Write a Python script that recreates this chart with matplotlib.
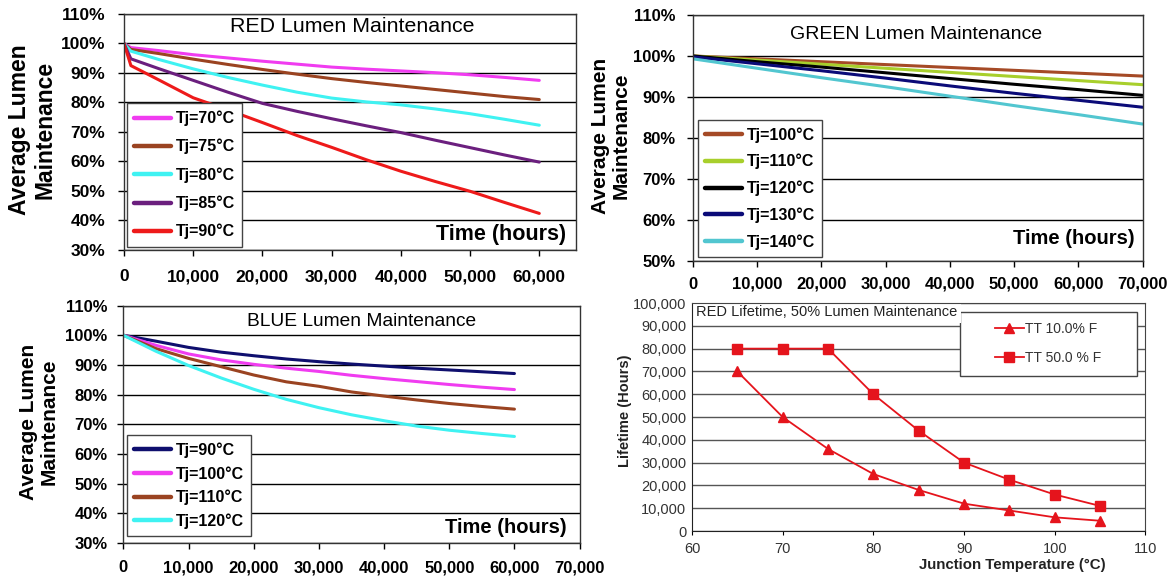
import numpy as np
import matplotlib
matplotlib.use('Agg')
import matplotlib.pyplot as plt
from matplotlib.ticker import FuncFormatter
from matplotlib.patches import Rectangle

plt.rcParams['font.family'] = ['Liberation Sans', 'DejaVu Sans']

# RED lumen maintenance (% vs hours)
red_hours = [0, 1000, 5000, 10000, 15000, 20000, 25000, 30000, 35000, 40000, 45000, 50000, 55000, 60000]
red_tj70 = [100, 98.6, 97.6, 96.2, 95.1, 94.0, 93.0, 92.0, 91.3, 90.7, 90.1, 89.4, 88.5, 87.5]
red_tj75 = [100, 98.0, 96.6, 94.7, 92.9, 91.2, 89.6, 88.1, 86.8, 85.6, 84.4, 83.2, 82.0, 81.0]
red_tj80 = [100, 97.4, 94.6, 91.4, 88.5, 85.9, 83.5, 81.5, 80.2, 79.2, 77.8, 76.2, 74.3, 72.3]
red_tj85 = [100, 94.8, 91.5, 87.5, 83.5, 79.7, 77.0, 74.5, 72.1, 69.8, 67.2, 64.7, 62.2, 59.8]
red_tj90 = [100, 92.5, 87.7, 81.6, 77.5, 73.2, 68.8, 64.8, 60.6, 56.7, 53.2, 49.9, 46.1, 42.4]
red_labels = ['Tj=70°C', 'Tj=75°C', 'Tj=80°C', 'Tj=85°C', 'Tj=90°C']

# GREEN lumen maintenance
green_hours = [0, 10000, 20000, 30000, 40000, 50000, 60000, 70000]
green_tj100 = [100, 99.3, 98.6, 97.9, 97.2, 96.5, 95.8, 95.1]
green_tj110 = [100, 99.0, 98.0, 97.0, 96.0, 95.0, 94.0, 93.0]
green_tj120 = [100, 98.6, 97.3, 95.9, 94.5, 93.1, 91.8, 90.4]
green_tj130 = [99.8, 98.1, 96.4, 94.6, 92.7, 90.9, 89.2, 87.5]
green_tj140 = [99.3, 97.0, 94.7, 92.5, 90.2, 87.9, 85.7, 83.4]
green_labels = ['Tj=100°C', 'Tj=110°C', 'Tj=120°C', 'Tj=130°C', 'Tj=140°C']

# BLUE lumen maintenance
blue_hours = [0, 5000, 10000, 15000, 20000, 25000, 30000, 35000, 40000, 45000, 50000, 55000, 60000]
blue_tj90 = [100, 98.0, 95.9, 94.3, 93.1, 92.0, 91.1, 90.3, 89.6, 88.9, 88.3, 87.7, 87.1]
blue_tj100 = [100, 96.6, 93.7, 91.7, 90.2, 88.9, 87.8, 86.5, 85.4, 84.4, 83.4, 82.5, 81.7]
blue_tj110 = [100, 95.5, 92.2, 89.4, 86.6, 84.3, 82.8, 80.9, 79.5, 78.2, 77.0, 76.0, 75.1]
blue_tj120 = [100, 94.6, 89.8, 85.6, 81.8, 78.4, 75.6, 73.2, 71.2, 69.4, 68.0, 66.9, 65.9]
blue_labels = ['Tj=90°C', 'Tj=100°C', 'Tj=110°C', 'Tj=120°C']

# RED lifetime at 50% lumen maintenance
junction_temp = [65, 70, 75, 80, 85, 90, 95, 100, 105]
life_tt10 = [70000, 50000, 36000, 25000, 18000, 12000, 9000, 6000, 4500]
life_tt50 = [80000, 80000, 80000, 60000, 44000, 30000, 22500, 16000, 11000]
life_labels = ['TT 10.0% F', 'TT 50.0 % F']

red_colors = ['#f03cf0', '#9a4321', '#3ff2f2', '#6b1f7e', '#ee1a1a']
green_colors = ['#a54a26', '#a8cf2c', '#000000', '#0b0b78', '#52c6d0']
blue_colors = ['#0f0f6e', '#f03cf0', '#9a4321', '#3ff2f2']
life_color = '#e5141c'

fig = plt.figure(figsize=(11.74, 5.76), dpi=100)
ax1 = fig.add_axes([0.1056, 0.566, 0.385, 0.4097])
ax2 = fig.add_axes([0.5903, 0.5469, 0.3829, 0.4271])
ax3 = fig.add_axes([0.1051, 0.0573, 0.3886, 0.4122])
ax4 = fig.add_axes([0.5894, 0.0781, 0.3863, 0.3958])


def style_lumen(ax, ylo, xmax, xtop, tsize, ypad, xpad):
    ax.set_xlim(0, xmax)
    ax.set_ylim(ylo, 110)
    ax.set_yticks(np.arange(ylo, 111, 10))
    ax.set_xticks(np.arange(0, xtop + 1, 10000))
    ax.yaxis.set_major_formatter(FuncFormatter(lambda v, p: f'{v:.0f}%'))
    ax.xaxis.set_major_formatter(FuncFormatter(lambda v, p: f'{v:,.0f}'))
    ax.grid(axis='y', color='black', lw=1.0)
    ax.set_axisbelow(True)
    ax.tick_params(axis='y', direction='out', length=4.5, width=1, pad=ypad, labelsize=tsize)
    ax.tick_params(axis='x', direction='out', length=4, width=1, pad=xpad, labelsize=tsize)
    for lab in ax.get_xticklabels() + ax.get_yticklabels():
        lab.set_fontweight('bold')
    for s in ax.spines.values():
        s.set_color('#333333')
        s.set_linewidth(1)


def lumen_panel(ax, hours, series, labels, colors, title, tsize, tpos, legpos, lspace,
                ylab_size, ylab_x, ylab_ls, time_pos, time_size):
    for vals, lab, col in zip(series, labels, colors):
        ax.plot(hours, vals, color=col, lw=2.2, label=lab, solid_capstyle='round')
    ax.text(tpos[0], tpos[1], title, transform=ax.transAxes, ha='center', va='center',
            fontsize=tsize)
    leg = ax.legend(loc='lower left', bbox_to_anchor=legpos, borderaxespad=0,
                    prop={'weight': 'bold', 'size': 11.5}, handlelength=2.3,
                    handletextpad=0.3, labelspacing=lspace, borderpad=0.45,
                    fancybox=False, edgecolor='#444444', framealpha=1)
    leg.get_frame().set_linewidth(1)
    for ln in leg.get_lines():
        ln.set_linewidth(3.2)
    ax.text(ylab_x, 0.51, 'Average Lumen\nMaintenance', transform=ax.transAxes,
            rotation=90, ha='center', va='center', fontsize=ylab_size,
            fontweight='bold', linespacing=ylab_ls, multialignment='center')
    ax.text(time_pos[0], time_pos[1], 'Time (hours)', transform=ax.transAxes,
            ha='right', va='center', fontsize=time_size, fontweight='bold')


style_lumen(ax1, 30, 65300, 60000, 12.5, 9, 10)
lumen_panel(ax1, red_hours, [red_tj70, red_tj75, red_tj80, red_tj85, red_tj90],
            red_labels, red_colors, 'RED Lumen Maintenance', 15.4, (0.504, 0.945),
            (0.006, 0.014), 0.8, 16.5, -0.203, 1.15, (0.978, 0.064), 15.5)

style_lumen(ax2, 50, 70000, 70000, 12, 8, 7.5)
lumen_panel(ax2, green_hours, [green_tj100, green_tj110, green_tj120, green_tj130, green_tj140],
            green_labels, green_colors, 'GREEN Lumen Maintenance', 14, (0.497, 0.919),
            (0.011, 0.017), 0.7, 15, -0.183, 1.08, (0.982, 0.093), 14.5)

style_lumen(ax3, 30, 70000, 70000, 12, 7, 8.5)
lumen_panel(ax3, blue_hours, [blue_tj90, blue_tj100, blue_tj110, blue_tj120],
            blue_labels, blue_colors, 'BLUE Lumen Maintenance', 13.8, (0.522, 0.934),
            (0.008, 0.03), 0.5, 15, -0.185, 1.08, (0.971, 0.066), 14.5)

# lifetime panel
ax4.plot(junction_temp, life_tt10, color=life_color, lw=1.3, marker='^', ms=7,
         label=life_labels[0])
ax4.plot(junction_temp, life_tt50, color=life_color, lw=1.3, marker='s', ms=7,
         label=life_labels[1])
ax4.set_xlim(60, 110)
ax4.set_ylim(0, 100000)
ax4.set_xticks(np.arange(60, 111, 10))
ax4.set_yticks(np.arange(0, 100001, 10000))
ax4.yaxis.set_major_formatter(FuncFormatter(lambda v, p: f'{v:,.0f}'))
ax4.grid(axis='y', color='#555555', lw=1.0)
ax4.set_axisbelow(True)
ax4.tick_params(axis='y', length=0, pad=4, labelsize=10.5, labelcolor='#333333')
ax4.tick_params(axis='x', direction='out', length=3, pad=5, labelsize=10.5,
                labelcolor='#333333')
for s in ax4.spines.values():
    s.set_color('#444444')
    s.set_zorder(7)
ax4.spines['left'].set_color('#222222')
ax4.spines['bottom'].set_color('#222222')

ax4.add_patch(Rectangle((0.591, 0.68), 0.39, 0.282, transform=ax4.transAxes,
                        facecolor='white', edgecolor='#444444', lw=1, zorder=4))
leg4 = ax4.legend(loc='center left', bbox_to_anchor=(0.668, 0.822), borderaxespad=0,
                  borderpad=0, frameon=False, fontsize=10, handlelength=2.1,
                  handletextpad=0.1, labelspacing=1.1, labelcolor='#333333')
leg4.set_zorder(5)
ax4.text(0.008, 0.962, 'RED Lifetime, 50% Lumen Maintenance', transform=ax4.transAxes,
         ha='left', va='center', fontsize=10.5, color='#222222', zorder=6,
         bbox=dict(facecolor='white', edgecolor='none', pad=3))
ax4.text(-0.148, 0.526, 'Lifetime (Hours)', transform=ax4.transAxes, rotation=90,
         ha='center', va='center', fontsize=10.5, fontweight='bold', color='#222222')
ax4.text(0.706, -0.149, 'Junction Temperature (°C)', transform=ax4.transAxes,
         ha='center', va='center', fontsize=10.8, fontweight='bold', color='#222222')

fig.savefig('out.png', dpi=100, facecolor='white')
